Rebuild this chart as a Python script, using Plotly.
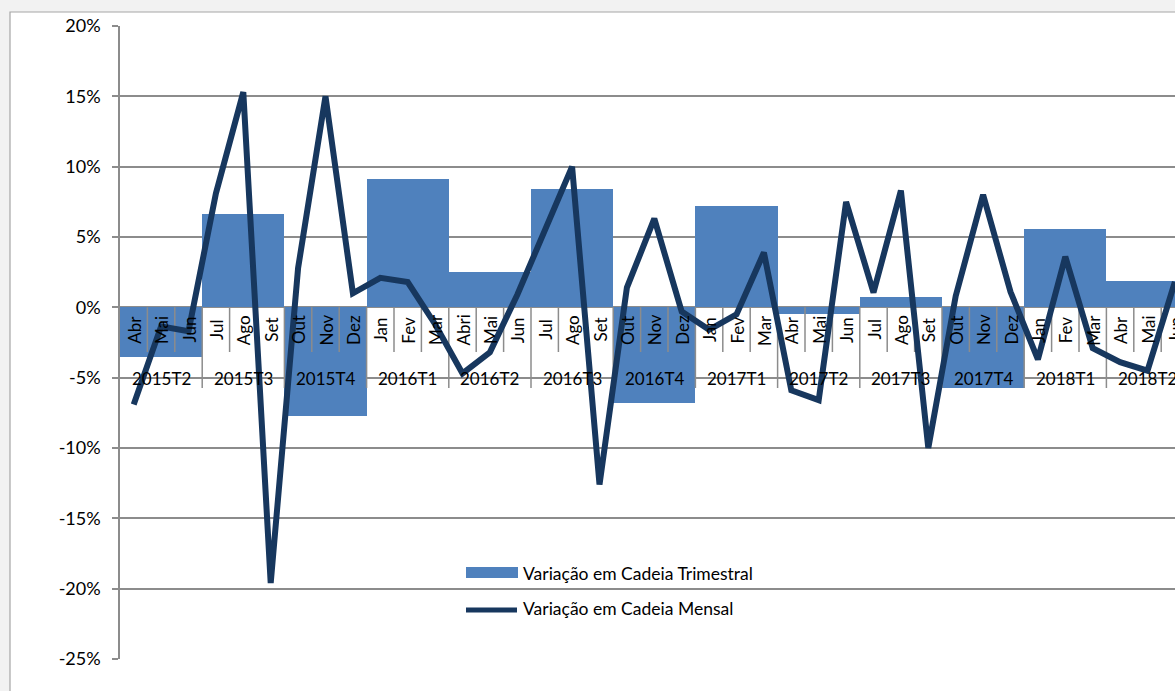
import plotly.graph_objects as go

# --- data -------------------------------------------------------------
months = ["Abr", "Mai", "Jun", "Jul", "Ago", "Set", "Out", "Nov", "Dez",
          "Jan", "Fev", "Mar", "Abri", "Mai", "Jun", "Jul", "Ago", "Set",
          "Out", "Nov", "Dez", "Jan", "Fev", "Mar", "Abr", "Mai", "Jun",
          "Jul", "Ago", "Set", "Out", "Nov", "Dez", "Jan", "Fev", "Mar",
          "Abr", "Mai", "Jun"]
quarters = ["2015T2", "2015T3", "2015T4", "2016T1", "2016T2", "2016T3",
            "2016T4", "2017T1", "2017T2", "2017T3", "2017T4", "2018T1",
            "2018T2"]
var_trimestral = [-3.5, 6.6, -7.7, 9.1, 2.5, 8.4, -6.8, 7.2, -0.5, 0.7,
                  -5.7, 5.6, 1.9]
var_mensal = [-6.9, -1.35, -1.7, 8.1, 15.3, -19.6, 2.8, 15.0, 1.0,
              2.1, 1.8, -1.2, -4.7, -3.2, 0.9, 5.5, 10.0, -12.6,
              1.4, 6.3, -0.3, -1.6, -0.5, 3.9, -5.9, -6.6, 7.5,
              1.05, 8.3, -10.0, 0.8, 8.0, 1.1, -3.7, 3.6, -2.9,
              -3.9, -4.5, 1.8]
y_ticks = [-25, -20, -15, -10, -5, 0, 5, 10, 15, 20]
y_ticktext = ["-25%", "-20%", "-15%", "-10%", "-5%", "0%", "5%", "10%",
              "15%", "20%"]

# --- layout geometry ----------------------------------------------------
W, H = 1175, 691
ML, MR, MT, MB = 120, 0, 26, 32
PW, PH = W - ML - MR, H - MT - MB
Y_MIN, Y_MAX = -25, 20
X_MIN = -0.5
X_MAX = X_MIN + PW / 27.4          # month slots of 27.4 px, right edge cut

def px_x(px):
    return (px - ML) / PW

def px_y(py):
    return (H - MB - py) / PH

def py_to_val(py):
    # pixel row -> value on the y axis
    return Y_MAX - (py - MT) / PH * (Y_MAX - Y_MIN)

BAR = "#4F81BD"
LINE = "#17375E"
GRID = "#8C8C8C"
FONT = "Lato"

n_q = len(quarters)
q_centers = [3 * i + 1 for i in range(n_q)]

fig = go.Figure()

# quarterly bars spanning their three months
fig.add_trace(go.Bar(
    x=q_centers, y=var_trimestral, width=3, marker_color=BAR,
    marker_line_width=0, name="Variação em Cadeia Trimestral",
    showlegend=False, hoverinfo="skip"))

# category separators of the two-level axis (months short, quarters long)
month_sep_end = py_to_val(352)
quarter_sep_end = py_to_val(388)
sep_x, sep_y = [], []
for k in range(1, len(months) + 1):
    xb = k - 0.5
    end = quarter_sep_end if k % 3 == 0 else month_sep_end
    sep_x += [xb, xb, None]
    sep_y += [0, end, None]
fig.add_trace(go.Scatter(
    x=sep_x, y=sep_y, mode="lines", line=dict(color=GRID, width=1.5),
    showlegend=False, hoverinfo="skip"))

# monthly line
fig.add_trace(go.Scatter(
    x=list(range(len(months))), y=var_mensal, mode="lines",
    line=dict(color=LINE, width=6), name="Variação em Cadeia Mensal",
    showlegend=False, hoverinfo="skip"))

annotations = []
label_font = dict(family=FONT, size=17, color="#000000")
for i, m in enumerate(months):
    annotations.append(dict(
        x=i, y=py_to_val(330), xref="x", yref="y", text=m, textangle=-90,
        showarrow=False, xanchor="center", yanchor="middle",
        font=label_font))
for c, q in zip(q_centers, quarters):
    annotations.append(dict(
        x=c, y=py_to_val(378), xref="x", yref="y", text=q,
        showarrow=False, xanchor="center", yanchor="middle",
        font=label_font))

# legend drawn as swatches + labels
legend_font = dict(family=FONT, size=17.5, color="#000000")
legend_items = [("Variação em Cadeia Trimestral", 573),
                ("Variação em Cadeia Mensal", 608)]
for text, cy in legend_items:
    annotations.append(dict(
        x=px_x(521), y=px_y(cy), xref="paper", yref="paper", text=text,
        showarrow=False, xanchor="left", yanchor="middle", font=legend_font))

shapes = [
    # white chart frame over the grey page
    dict(type="rect", xref="paper", yref="paper", layer="below",
         x0=px_x(10), x1=px_x(W + 20), y0=px_y(H + 20), y1=px_y(12),
         fillcolor="white", line=dict(color="#A6A6A6", width=1.2)),
    dict(type="rect", xref="paper", yref="paper", layer="above",
         x0=px_x(466), x1=px_x(518), y0=px_y(578), y1=px_y(567),
         fillcolor=BAR, line=dict(width=0)),
    dict(type="line", xref="paper", yref="paper", layer="above",
         x0=px_x(466), x1=px_x(517), y0=px_y(610), y1=px_y(610),
         line=dict(color=LINE, width=5)),
]

fig.update_layout(
    width=W, height=H,
    margin=dict(l=ML, r=MR, t=MT, b=MB, pad=0),
    paper_bgcolor="#F2F2F2", plot_bgcolor="rgba(0,0,0,0)",
    barmode="overlay", bargap=0,
    annotations=annotations, shapes=shapes,
    font=dict(family=FONT, size=17, color="#000000"),
    xaxis=dict(range=[X_MIN, X_MAX], showticklabels=False, showgrid=False,
               zeroline=False, showline=False, fixedrange=True),
    yaxis=dict(range=[Y_MIN, Y_MAX], tickvals=y_ticks, ticktext=y_ticktext,
               showgrid=True, gridcolor=GRID, gridwidth=1.5,
               zeroline=False, showline=True, linecolor=GRID, linewidth=1.5,
               ticks="outside", ticklen=6, tickcolor=GRID, tickwidth=1.5,
               ticklabelstandoff=8,
               tickfont=dict(family=FONT, size=18, color="#000000")),
)

fig.write_html("out.html")
